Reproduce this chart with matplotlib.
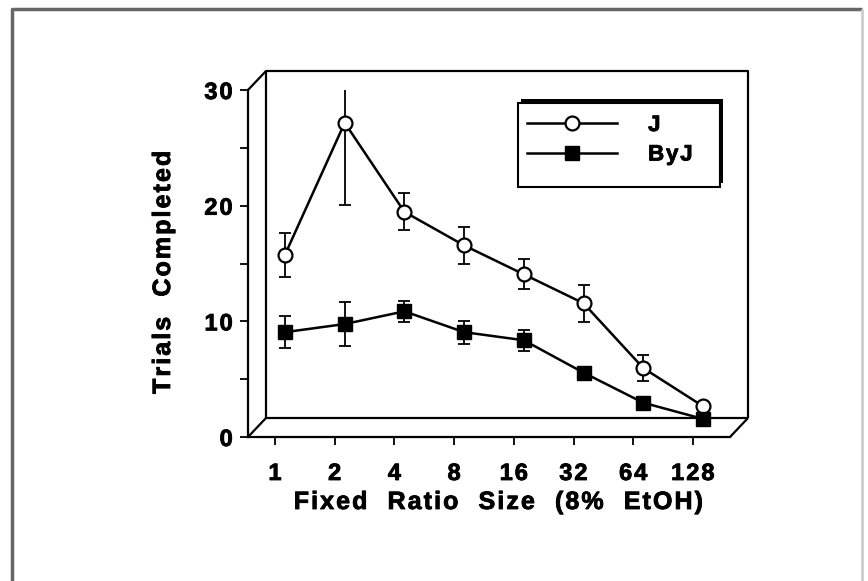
import matplotlib
matplotlib.use("Agg")
import matplotlib.pyplot as plt
import matplotlib.patheffects as pe
from matplotlib import transforms
from matplotlib.lines import Line2D
from matplotlib.patches import Rectangle
from matplotlib.ticker import MultipleLocator

# data
ratio_labels = ["1", "2", "4", "8", "16", "32", "64", "128"]
j_mean = [14.9, 26.3, 18.6, 15.7, 13.2, 10.7, 5.1, 1.8]
j_err = [1.9, 7.1, 1.6, 1.6, 1.3, 1.6, 1.1, 0.0]
byj_mean = [8.2, 8.9, 10.0, 8.2, 7.5, 4.7, 2.1, 0.7]
byj_err = [1.4, 1.9, 0.9, 1.0, 0.9, 0.5, 0.4, 0.3]

plt.rcParams['font.family'] = ['Liberation Sans', 'DejaVu Sans']
plt.rcParams['font.weight'] = 'bold'

def spaced(s):
    # old typesetting: letters set wide apart
    return '\u200a'.join(s)

heavy = [pe.withStroke(linewidth=0.6, foreground='k')]

W, H = 868, 581
fig = plt.figure(figsize=(W / 100, H / 100), dpi=100)

def fx(px):
    return px / W

def fy(py):
    return 1 - py / H

# front box in pixels
L, R, B, T = 248, 730, 437, 90
DX, DY = 18, 19   # depth of the pseudo 3d box

ax = fig.add_axes([fx(L), fy(B), fx(R) - fx(L), fy(T) - fy(B)])
x = list(range(len(ratio_labels)))
step = 59.7
ax.set_xlim((L - 275) / step, (R - 275) / step)
ax.set_ylim(0, 30)
ax.patch.set_visible(False)

# data sit a bit behind the front plane
shift = transforms.offset_copy(ax.transData, fig=fig, x=10, y=10, units='dots')

for mean, err in [(j_mean, j_err), (byj_mean, byj_err)]:
    eb = ax.errorbar(x, mean, yerr=err, fmt='none', ecolor='k',
                     elinewidth=1.3, capsize=4.5, capthick=1.3)
    for a in eb.get_children():
        a.set_transform(shift)

l1, = ax.plot(x, j_mean, '-o', color='k', lw=1.8, ms=10, mfc='white',
              mec='k', mew=1.6, transform=shift, clip_on=False, zorder=4)
l2, = ax.plot(x, byj_mean, '-s', color='k', lw=1.8, ms=10.5, mfc='k',
              mec='k', transform=shift, clip_on=False, zorder=5)

# spines / ticks
for s in ['top', 'right']:
    ax.spines[s].set_visible(False)
for s in ['left', 'bottom']:
    ax.spines[s].set_linewidth(1.6)
ax.set_xticks(x)
ax.set_xticklabels([spaced(t) for t in ratio_labels])
ax.set_yticks([0, 10, 20, 30])
ax.set_yticklabels([spaced(t) for t in ["0", "10", "20", "30"]])
ax.yaxis.set_minor_locator(MultipleLocator(5))
ax.tick_params(axis='both', which='both', direction='out', width=1.3,
               length=6, labelsize=17)
ax.tick_params(axis='x', pad=12)
ax.tick_params(axis='y', pad=5)
for t in ax.get_xticklabels() + ax.get_yticklabels():
    t.set_path_effects(heavy)

ax.set_ylabel(spaced("Trials  Completed"), fontsize=18, fontweight='bold')
ax.yaxis.label.set_va('center')
ax.yaxis.set_label_coords((163 - L) / (R - L), (B - 272) / (B - T))
ax.set_xlabel(spaced("Fixed  Ratio  Size  (8%  EtOH)"), fontsize=18, fontweight='bold')
ax.xaxis.label.set_va('center')
ax.xaxis.set_label_coords((499 - L) / (R - L), (B - 502) / (B - T))
ax.yaxis.label.set_path_effects(heavy)
ax.xaxis.label.set_path_effects(heavy)

# back wall and floor of the box
def seg(xs, ys, lw=1.6, color='k'):
    fig.add_artist(Line2D([fx(v) for v in xs], [fy(v) for v in ys],
                          transform=fig.transFigure, color=color, lw=lw,
                          solid_capstyle='butt', zorder=-1))

seg([L + DX, L + DX, R + DX, R + DX], [B - DY, T - DY, T - DY, B - DY])
seg([L + DX, R + DX], [B - DY, B - DY])
seg([L, L + DX], [T, T - DY])
seg([L, L + DX], [B, B - DY])
seg([R, R + DX], [B, B - DY])

# legend: box drawn by hand, entries by matplotlib
box = Rectangle((fx(518), fy(187)), fx(720) - fx(518), fy(103) - fy(187),
                transform=fig.transFigure, facecolor='white', edgecolor='k',
                lw=1.5, zorder=-1)
box.set_path_effects([pe.SimplePatchShadow(offset=(2, 3), shadow_rgbFace='k', alpha=1),
                      pe.Normal()])
fig.add_artist(box)
leg = ax.legend([l1, l2], [spaced("J"), spaced("ByJ")], loc='upper left',
                bbox_to_anchor=(fx(527), fy(115)), bbox_transform=fig.transFigure,
                borderaxespad=0, borderpad=0, frameon=False,
                handlelength=4.05, handletextpad=1.4, labelspacing=0.38,
                prop={'size': 16, 'weight': 'bold'})
for t in leg.get_texts():
    t.set_path_effects(heavy)

# outer frame of the scanned figure
seg([12, 12, 862], [590, 9, 9], lw=2.5, color='#666666')
seg([862, 862], [9, 590], lw=2, color='#cccccc')

fig.savefig("out.png", dpi=100)
